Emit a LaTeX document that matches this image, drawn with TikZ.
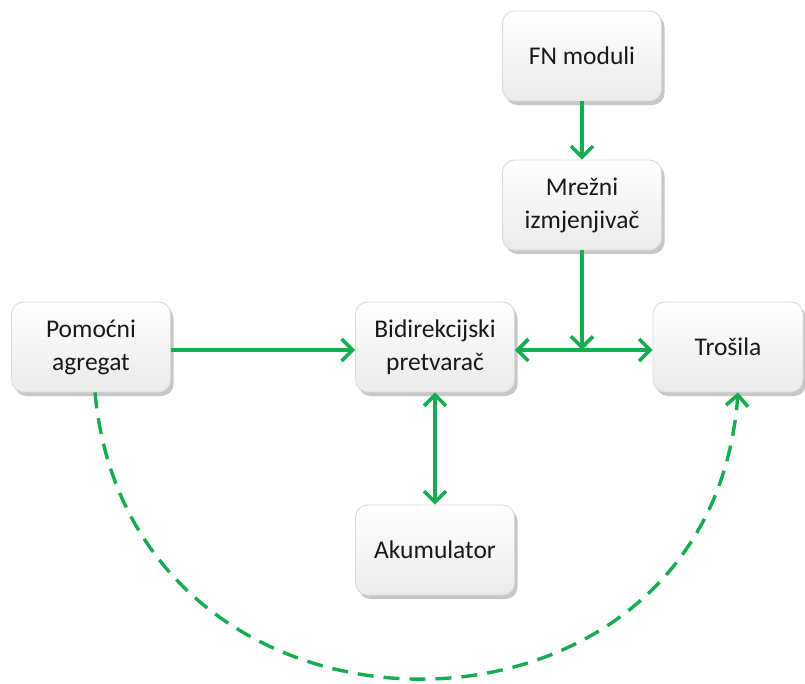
\documentclass[tikz,border=0pt]{standalone}
\usepackage{fontspec}
\setmainfont{Carlito}
\usetikzlibrary{arrows.meta,shadows}
\definecolor{arrgreen}{RGB}{22,172,80}
\begin{document}
\begin{tikzpicture}[x=1pt,y=-1pt,
  box/.style={draw=gray!30, line width=0.8pt, rounded corners=12pt, top color=white, bottom color=gray!16,
    minimum width=159pt, minimum height=90pt, align=center, font=\fontsize{25.5}{33}\selectfont, text=black!90,
    drop shadow={shadow xshift=3pt, shadow yshift=-4pt, fill=gray!80, opacity=0.55}},
  conn/.style={draw=arrgreen, line width=3.8pt, -{Straight Barb[length=11pt,width=22pt,line width=3.6pt]}},
  bconn/.style={conn, {Straight Barb[length=11pt,width=22pt,line width=3.6pt]}-{Straight Barb[length=11pt,width=22pt,line width=3.6pt]}}
]
\useasboundingbox (0,0) rectangle (805,683);
\node[box] (fn) at (582,56) {FN moduli};
\node[box] (mi) at (582,205) {Mrežni\\izmjenjivač};
\node[box] (pa) at (91,347) {Pomoćni\\agregat};
\node[box] (bp) at (435,347) {Bidirekcijski\\pretvarač};
\node[box, minimum width=150pt] (tr) at (728,347) {Trošila};
\node[box] (ak) at (435,550) {Akumulator};
\coordinate (j) at (582,350);
\draw[conn] (fn.south) -- (mi.north);
\draw[conn] (mi.south) -- (j);
\draw[bconn] (bp.east |- j) -- (tr.west |- j);
\draw[conn] (pa.east |- j) -- (bp.west |- j);
\draw[bconn] (bp.south) -- (ak.north);
\draw[conn, line width=3.4pt, dash pattern=on 16pt off 10pt] (pa.south -| 95,0) .. controls (130,774) and (710,774) .. (tr.south -| 738,0);
\end{tikzpicture}
\end{document}
